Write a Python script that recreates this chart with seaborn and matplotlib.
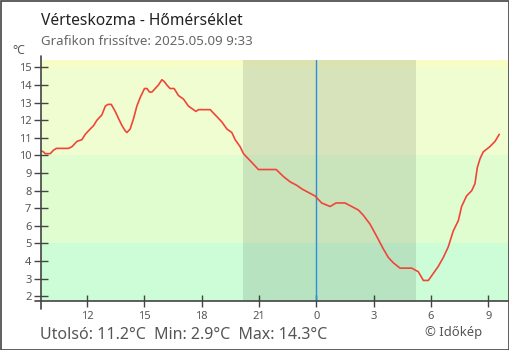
import matplotlib
matplotlib.use("Agg")
import matplotlib.pyplot as plt
import seaborn as sns
import pandas as pd
from matplotlib.lines import Line2D
from matplotlib.patches import Rectangle

# ---- data (hours, continuous: 24 = midnight) ----
hours = [9.51, 9.73, 9.82, 10.08, 10.25, 10.40, 11.04, 11.22, 11.48, 11.74, 11.91,
         12.17, 12.35, 12.52, 12.78, 12.96, 13.10, 13.27, 13.48, 13.65, 13.83, 14.00,
         14.09, 14.26, 14.44, 14.61, 14.79, 15.01, 15.14, 15.27, 15.40, 15.57, 15.74,
         15.92, 16.04, 16.18, 16.35, 16.56, 16.79, 17.05, 17.31, 17.57, 17.70, 17.83,
         18.45, 18.62, 18.80, 19.06, 19.32, 19.58, 19.75, 20.01, 20.19, 20.45, 20.54,
         20.97, 21.90, 22.28, 22.63, 22.98, 23.24, 23.58, 23.93, 24.28, 24.72, 25.03,
         25.50, 25.85, 26.20, 26.46, 26.81, 27.16, 27.50, 27.77, 28.03, 28.38, 28.99,
         29.33, 29.60, 29.86, 30.12, 30.38, 30.64, 30.90, 31.16, 31.43, 31.60, 31.86,
         32.13, 32.30, 32.42, 32.56, 32.73, 33.08, 33.35, 33.57]
temps = [10.3, 10.2, 10.1, 10.1, 10.3, 10.4, 10.4, 10.5, 10.8, 10.9, 11.2,
         11.5, 11.7, 12.0, 12.3, 12.8, 12.9, 12.9, 12.5, 12.1, 11.7, 11.4,
         11.3, 11.5, 12.1, 12.8, 13.3, 13.8, 13.8, 13.6, 13.6, 13.8, 14.0,
         14.3, 14.2, 14.0, 13.8, 13.8, 13.4, 13.2, 12.8, 12.6, 12.5, 12.6,
         12.6, 12.4, 12.2, 11.9, 11.5, 11.3, 10.9, 10.5, 10.1, 9.8, 9.7,
         9.2, 9.2, 8.8, 8.5, 8.3, 8.1, 7.9, 7.7, 7.3, 7.1, 7.3,
         7.3, 7.1, 6.9, 6.6, 6.1, 5.4, 4.7, 4.2, 3.9, 3.6, 3.6,
         3.4, 2.9, 2.9, 3.3, 3.7, 4.2, 4.8, 5.7, 6.3, 7.1, 7.7,
         8.0, 8.4, 9.3, 9.8, 10.2, 10.5, 10.8, 11.2]
x_ticks = [12, 15, 18, 21, 24, 27, 30, 33]
x_tick_labels = ["12", "15", "18", "21", "0", "3", "6", "9"]
y_ticks = list(range(2, 16))
bands = [(1.75, 5, "#ccfdd6"), (5, 10, "#e0fdd0"), (10, 15, "#f0fdd0"), (15, 15.42, "#f7fdc4")]
night = (20.15, 29.22)
midnight = 24
title = "Vérteskozma - Hőmérséklet"
subtitle = "Grafikon frissítve: 2025.05.09 9:33"
footer = "Utolsó: 11.2°C  Min: 2.9°C  Max: 14.3°C"
credit = "© Időkép"

sns.set_style("white")
plt.rcParams['font.family'] = ['Noto Sans', 'DejaVu Sans']

W, H = 510, 350
fig = plt.figure(figsize=(W / 100, H / 100), dpi=100)
L, R, T, B = 40.7, 509, 60, 300.7
ax = fig.add_axes([L / W, 1 - B / H, (R - L) / W, (B - T) / H])

xmin, xmax = 9.58, 34.08
ymin, ymax = 1.75, 15.42

for lo, hi, c in bands:
    ax.axhspan(lo, hi, color=c, lw=0, zorder=0)
ax.axvspan(night[0], night[1], color="#000000", alpha=0.10, lw=0, zorder=1)
ax.axvline(midnight, color="#2a8fe0", lw=1.0, zorder=2)

df = pd.DataFrame({"hour": hours, "temp": temps})
sns.lineplot(data=df, x="hour", y="temp", ax=ax, color="#f0453a", lw=1.2, zorder=3)

ax.set_xlim(xmin, xmax)
ax.set_ylim(ymin, ymax)
ax.set_xlabel("")
ax.set_ylabel("")
for s in ax.spines.values():
    s.set_visible(False)

ax.set_xticks(x_ticks)
ax.set_xticklabels(x_tick_labels)
ax.set_yticks(y_ticks)
ax.set_yticklabels([str(v) for v in y_ticks])
ax.tick_params(axis="x", direction="inout", length=8.6, width=1, color="#444444",
               labelsize=8, labelcolor="#555555", pad=3, bottom=True)
ax.tick_params(axis="y", direction="inout", length=9.4, width=1, color="#444444",
               labelsize=8, labelcolor="#555555", pad=2, left=True)

# spines with small overshoot
ax.add_line(Line2D([-6 / (R - L), 1], [0, 0], transform=ax.transAxes, color="#444444",
                   lw=1.2, clip_on=False, zorder=5))
ax.add_line(Line2D([0, 0], [-8 / (B - T), 1 + 4 / (B - T)], transform=ax.transAxes,
                   color="#444444", lw=1.2, clip_on=False, zorder=5))

fig.text(41 / W, 1 - 25 / H, title, fontsize=11.2, color="#222222", ha="left", va="baseline")
fig.text(41 / W, 1 - 45 / H, subtitle, fontsize=9.55, color="#666666", ha="left", va="baseline")
fig.text(12 / W, 1 - 54 / H, "°C", fontsize=8.8, color="#555555", ha="left", va="baseline")
fig.text(40 / W, 1 - 339 / H, footer, fontsize=11.5, color="#555555", ha="left", va="baseline")
fig.text(425 / W, 1 - 336 / H, credit, fontsize=9.4, color="#555555", ha="left", va="baseline")

fig.patches.append(Rectangle((0.5 / W, 0.5 / H), 1 - 1 / W, 1 - 1 / H, transform=fig.transFigure,
                             fill=False, ec="#444444", lw=1.2))

fig.savefig("out.png", dpi=100)
